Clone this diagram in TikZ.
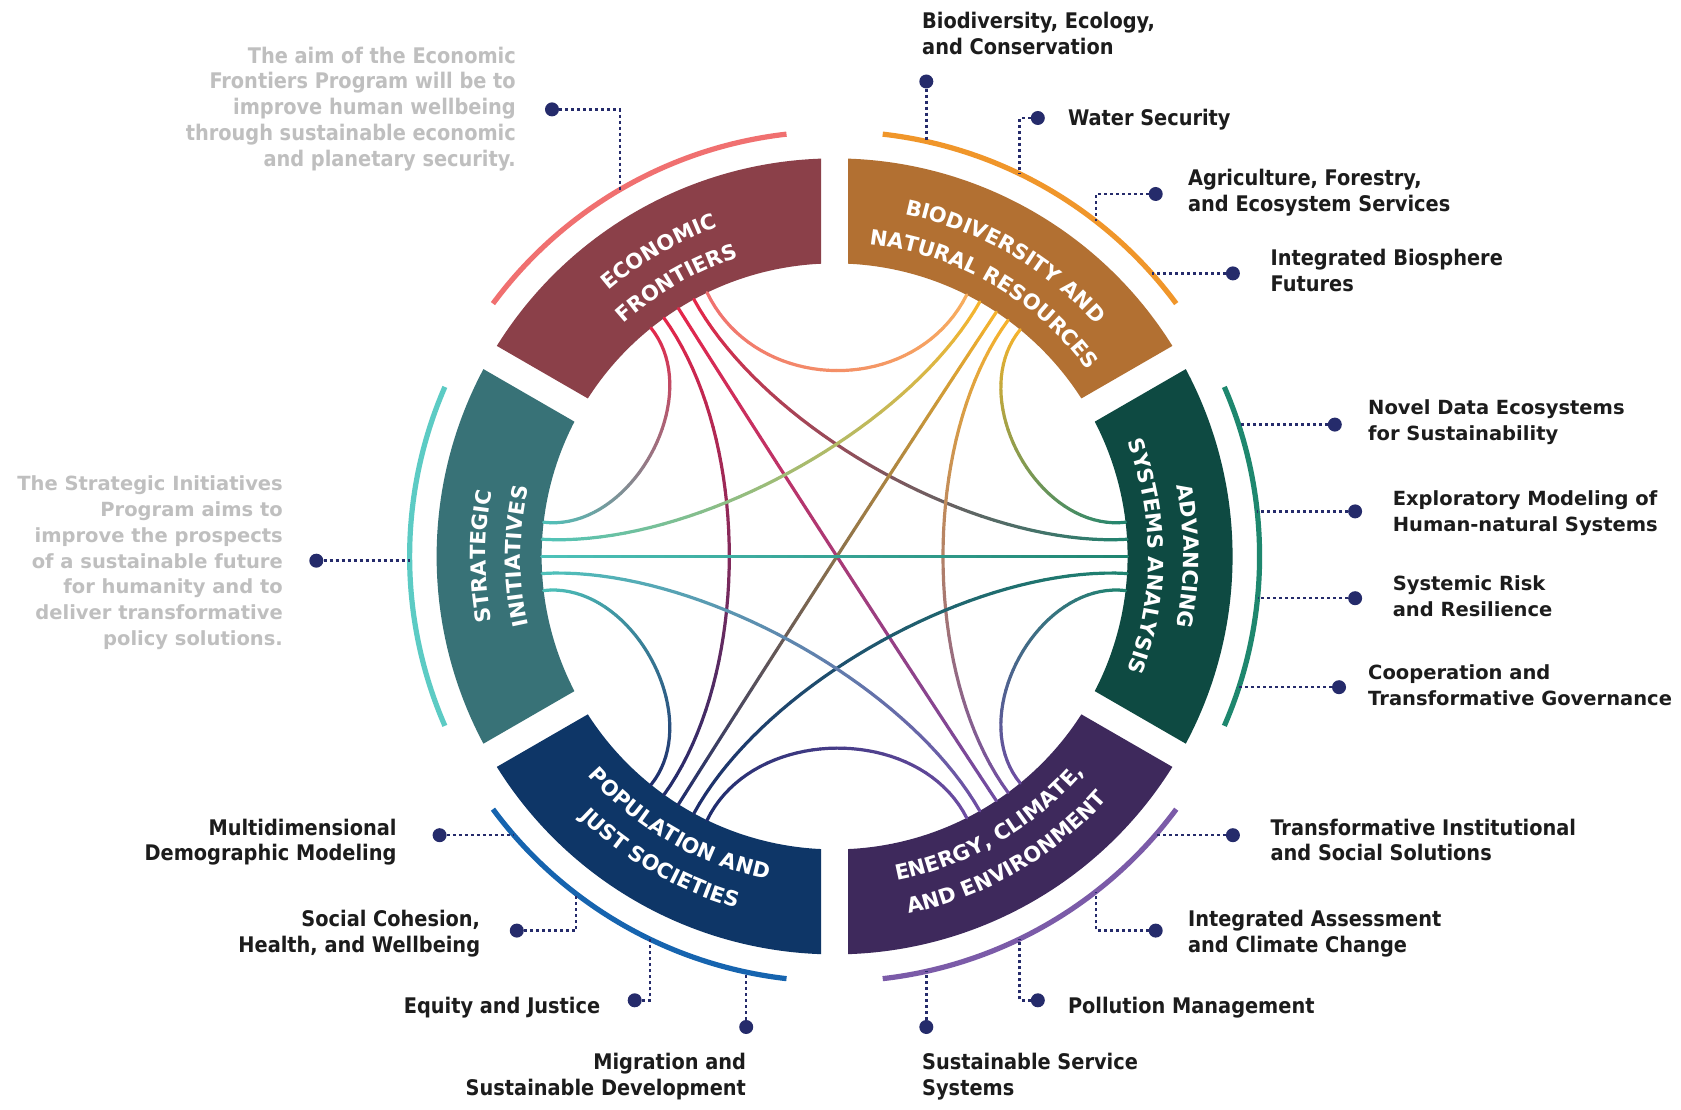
\documentclass[tikz,border=0pt]{standalone}
\usepackage{fontspec}
\setmainfont{DejaVu Sans}
\newfontfamily\condfont{DejaVu Sans Condensed}
\usetikzlibrary{decorations.text}

% ring segment fills
\definecolor{econSeg}{HTML}{8B4049}
\definecolor{bioSeg}{HTML}{B27032}
\definecolor{advSeg}{HTML}{0E4A42}
\definecolor{enSeg}{HTML}{3E295C}
\definecolor{popSeg}{HTML}{0E3667}
\definecolor{strSeg}{HTML}{387277}
% thin outer rims
\definecolor{econRim}{HTML}{F07070}
\definecolor{bioRim}{HTML}{F0962A}
\definecolor{advRim}{HTML}{1E876E}
\definecolor{enRim}{HTML}{7B5BA8}
\definecolor{popRim}{HTML}{1664AF}
\definecolor{strRim}{HTML}{5CCBC4}
% chord end colours
\definecolor{econLn}{HTML}{E5264A}
\definecolor{bioLn}{HTML}{F7B42C}
\definecolor{advLn}{HTML}{1F8470}
\definecolor{enLn}{HTML}{6E4DA3}
\definecolor{popLn}{HTML}{1E2C6C}
\definecolor{strLn}{HTML}{4EC3BA}
\definecolor{econSoft}{HTML}{F07070}
\definecolor{bioSoft}{HTML}{F7AE5E}
% text and leaders
\definecolor{navy}{HTML}{252B6B}
\definecolor{greytxt}{HTML}{BFBFBF}
\definecolor{labtxt}{HTML}{1C1C1C}

\newcommand\Rout{398}
\newcommand\Rin{293}
\newcommand\Rrim{425}
\newcommand\gapO{1.929}
\newcommand\gapI{2.621}
\newcommand\nPieces{40}
\newcommand\segfont{\bfseries\fontsize{21}{25}\selectfont}

\tikzset{
  chordline/.style={line width=3.2pt, line cap=round},
  rim/.style={line width=5.2pt},
  lead/.style={navy, line width=2.4pt, dash pattern=on 3pt off 3pt},
  pin/.style={circle, fill=navy, minimum size=14pt, inner sep=0pt},
  lab/.style={font=\condfont\bfseries\fontsize{21.5}{25.7}\selectfont, text=labtxt, inner sep=0pt, align=left, anchor=base west},
  labr/.style={lab, align=right, anchor=base east},
  labw/.style={font=\bfseries\fontsize{19.5}{25.7}\selectfont, text=labtxt, inner sep=0pt, align=left, anchor=base west},
  greyc/.style={font=\condfont\bfseries\fontsize{21.5}{25.75}\selectfont, text=greytxt, inner sep=0pt, align=right, anchor=base east},
  greyw/.style={font=\bfseries\fontsize{19.5}{25.75}\selectfont, text=greytxt, inner sep=0pt, align=right, anchor=base east},
}

% annular sector with parallel-sided gaps, centred on angle #1, plus its rim
\newcommand\ringseg[2]{%
  \fill[#2Seg] ({#1-30+\gapO}:\Rout) arc[start angle={#1-30+\gapO}, end angle={#1+30-\gapO}, radius=\Rout]
    -- ({#1+30-\gapI}:\Rin) arc[start angle={#1+30-\gapI}, end angle={#1-30+\gapI}, radius=\Rin] -- cycle;
  \draw[rim, #2Rim] ({#1-23.5}:\Rrim) arc[start angle={#1-23.5}, end angle={#1+23.5}, radius=\Rrim];
}
% white lettering: clockwise (tops outward) and counter-clockwise (tops inward)
\newcommand\ringtextcw[3]{%
  \path[decorate, decoration={text along path, text align=center, text={|\segfont\color{white}|#3}}]
    ({#1+40}:#2) arc[start angle={#1+40}, end angle={#1-40}, radius=#2];}
\newcommand\ringtextccw[3]{%
  \path[decorate, decoration={text along path, text align=center, text={|\segfont\color{white}|#3}}]
    ({#1-40}:#2) arc[start angle={#1-40}, end angle={#1+40}, radius=#2];}

% cubic weights for the chord curves
\newcommand\bezw[1]{%
  \pgfmathsetmacro\chWa{(1-#1)^3+3*\chCf*(1-#1)^2*#1}%
  \pgfmathsetmacro\chWb{#1^3+3*\chCf*(1-#1)*#1^2}}
% chord between inner-rim angles #1 and #2, shaded from colour #3 to #4;
% #5 places both control points at that fraction of the inner radius
\newcommand\chord[5]{%
  \pgfmathsetmacro\chCf{#5}%
  \pgfmathsetmacro\chAx{\Rin*cos(#1)}%
  \pgfmathsetmacro\chAy{\Rin*sin(#1)}%
  \pgfmathsetmacro\chBx{\Rin*cos(#2)}%
  \pgfmathsetmacro\chBy{\Rin*sin(#2)}%
  \foreach \i in {1,...,\nPieces}{%
    \pgfmathsetmacro\chTa{(\i-1)/\nPieces}%
    \pgfmathsetmacro\chTb{\i/\nPieces}%
    \bezw{\chTa}%
    \pgfmathsetmacro\chXa{\chWa*\chAx+\chWb*\chBx}%
    \pgfmathsetmacro\chYa{\chWa*\chAy+\chWb*\chBy}%
    \bezw{\chTb}%
    \pgfmathsetmacro\chXb{\chWa*\chAx+\chWb*\chBx}%
    \pgfmathsetmacro\chYb{\chWa*\chAy+\chWb*\chBy}%
    \pgfmathtruncatemacro\chPc{50*(\chTa+\chTb)}%
    \draw[chordline, #4!\chPc!#3] (\chXa,\chYa) -- (\chXb,\chYb);
  }%
}

\begin{document}
\begin{tikzpicture}[x=1pt,y=1pt]
\fill[white] (0,0) rectangle (1681,1109);
\useasboundingbox (0,0) rectangle (1681,1109);

\begin{scope}[shift={(834.6,552.6)}]
  % six programme segments with their rims
  \ringseg{120}{econ}
  \ringseg{60}{bio}
  \ringseg{0}{adv}
  \ringseg{-60}{en}
  \ringseg{-120}{pop}
  \ringseg{180}{str}

  % links between programmes
  \chord{115.8}{63.2}{econSoft}{bioSoft}{0.61}
  \chord{118.7}{3.35}{econLn}{advLn}{0.49}
  \chord{122.2}{-56.5}{econLn}{enLn}{0.45}
  \chord{125.6}{-125.6}{econLn}{popLn}{0.49}
  \chord{128.8}{173.3}{econLn}{strLn}{0.70}
  \chord{50.7}{6.7}{bioLn}{advLn}{0.70}
  \chord{53.7}{-53.7}{bioLn}{enLn}{0.50}
  \chord{56.5}{-122.2}{bioLn}{popLn}{0.45}
  \chord{60.3}{176.65}{bioLn}{strLn}{0.49}
  \chord{-6.7}{-50.7}{advLn}{enLn}{0.70}
  \chord{-3.35}{-118.7}{advLn}{popLn}{0.49}
  \chord{0}{180}{advLn}{strLn}{0.45}
  \chord{-63.2}{-115.8}{enLn}{popLn}{0.64}
  \chord{-60.3}{-176.65}{enLn}{strLn}{0.49}
  \chord{-128.8}{-173.3}{popLn}{strLn}{0.70}

  % segment titles
  \ringtextcw{120}{349}{ECONOMIC}
  \ringtextcw{120}{314}{FRONTIERS}
  \ringtextcw{60}{349}{BIODIVERSITY AND}
  \ringtextcw{60}{314}{NATURAL RESOURCES}
  \ringtextcw{0}{349}{ADVANCING}
  \ringtextcw{0}{314}{SYSTEMS ANALYSIS}
  \ringtextcw{180}{349}{STRATEGIC}
  \ringtextcw{180}{314}{INITIATIVES}
  \ringtextccw{-120}{330}{POPULATION AND}
  \ringtextccw{-120}{365}{JUST SOCIETIES}
  \ringtextccw{-60}{330}{ENERGY, CLIMATE,}
  \ringtextccw{-60}{365}{AND ENVIRONMENT}
\end{scope}

% programme descriptions (anchored at the baseline of the last line)
\node[greyc] (econNote) at (516,942.8) {The aim of the Economic\\Frontiers Program will be to\\improve human wellbeing\\through sustainable economic\\and planetary security.};
\node[pin] (pE) at (552,999.6) {};
\coordinate (qE) at (620,919.4);
\draw[lead] (pE) -| (qE);

\node[greyw] (strNote) at (283,463.5) {The Strategic Initiatives\\Program aims to\\improve the prospects\\of a sustainable future\\for humanity and to\\deliver transformative\\policy solutions.};
\node[pin] (pS) at (316.3,548.3) {};
\coordinate (qS) at (409.6,548.3);
\draw[lead] (pS) -- (qS);

% biodiversity research areas
\node[lab] (tB1) at (922,1054.3) {Biodiversity, Ecology,\\and Conservation};
\node[pin] (pB1) at (926.3,1027.5) {};
\coordinate (qB1) at (926.3,967.6);
\draw[lead] (pB1) -- (qB1);
\node[lab] (tB2) at (1067.8,983.5) {Water Security};
\node[pin] (pB2) at (1037.8,991) {};
\coordinate (qB2) at (1019.6,935.2);
\draw[lead] (pB2) -| (qB2);
\node[lab] (tB3) at (1187.9,897.8) {Agriculture, Forestry,\\and Ecosystem Services};
\node[pin] (pB3) at (1155.7,915) {};
\coordinate (qB3) at (1095.7,888);
\draw[lead] (pB3) -| (qB3);
\node[lab] (tB4) at (1270.4,817.3) {Integrated Biosphere\\Futures};
\node[pin] (pB4) at (1232.9,835.6) {};
\coordinate (qB4) at (1151.6,835.6);
\draw[lead] (pB4) -- (qB4);

% systems analysis research areas
\node[labw] (tA1) at (1368,668.3) {Novel Data Ecosystems\\for Sustainability};
\node[pin] (pA1) at (1334.8,684.4) {};
\coordinate (qA1) at (1238.6,684.4);
\draw[lead] (pA1) -- (qA1);
\node[labw] (tA2) at (1392.6,577.3) {Exploratory Modeling of\\Human-natural Systems};
\node[pin] (pA2) at (1355.1,597.6) {};
\coordinate (qA2) at (1257.2,597.6);
\draw[lead] (pA2) -- (qA2);
\node[labw] (tA3) at (1392.6,492.6) {Systemic Risk\\and Resilience};
\node[pin] (pA3) at (1355.1,510.8) {};
\coordinate (qA3) at (1257.5,510.8);
\draw[lead] (pA3) -- (qA3);
\node[labw] (tA4) at (1368,403.6) {Cooperation and\\Transformative Governance};
\node[pin] (pA4) at (1339,421.8) {};
\coordinate (qA4) at (1239,421.8);
\draw[lead] (pA4) -- (qA4);

% energy research areas
\node[lab] (tN1) at (1270.4,248.1) {Transformative Institutional\\and Social Solutions};
\node[pin] (pN1) at (1232.9,273.8) {};
\coordinate (qN1) at (1155.4,273.8);
\draw[lead] (pN1) -- (qN1);
\node[lab] (tN2) at (1187.9,157) {Integrated Assessment\\and Climate Change};
\node[pin] (pN2) at (1155.7,178.4) {};
\coordinate (qN2) at (1095.7,217.2);
\draw[lead] (pN2) -| (qN2);
\node[lab] (tN3) at (1067.8,95.9) {Pollution Management};
\node[pin] (pN3) at (1037.8,108.7) {};
\coordinate (qN3) at (1019.6,170);
\draw[lead] (pN3) -| (qN3);
\node[lab] (tN4) at (922,13.4) {Sustainable Service\\Systems};
\node[pin] (pN4) at (926.3,82) {};
\coordinate (qN4) at (926.3,137.6);
\draw[lead] (pN4) -- (qN4);

% population research areas
\node[labr] (tP1) at (396.7,248.1) {Multidimensional\\Demographic Modeling};
\node[pin] (pP1) at (439.6,273.8) {};
\coordinate (qP1) at (513.8,273.8);
\draw[lead] (pP1) -- (qP1);
\node[labr] (tP2) at (480.3,157) {Social Cohesion,\\Health, and Wellbeing};
\node[pin] (pP2) at (516.8,178.4) {};
\coordinate (qP2) at (576,215.3);
\draw[lead] (pP2) -| (qP2);
\node[labr] (tP3) at (600.4,95.9) {Equity and Justice};
\node[pin] (pP3) at (634.7,108.7) {};
\coordinate (qP3) at (650,169.8);
\draw[lead] (pP3) -| (qP3);
\node[labr] (tP4) at (746.2,13.4) {Migration and\\Sustainable Development};
\node[pin] (pP4) at (746.2,82) {};
\coordinate (qP4) at (746.2,136.9);
\draw[lead] (pP4) -- (qP4);
\end{tikzpicture}
\end{document}
